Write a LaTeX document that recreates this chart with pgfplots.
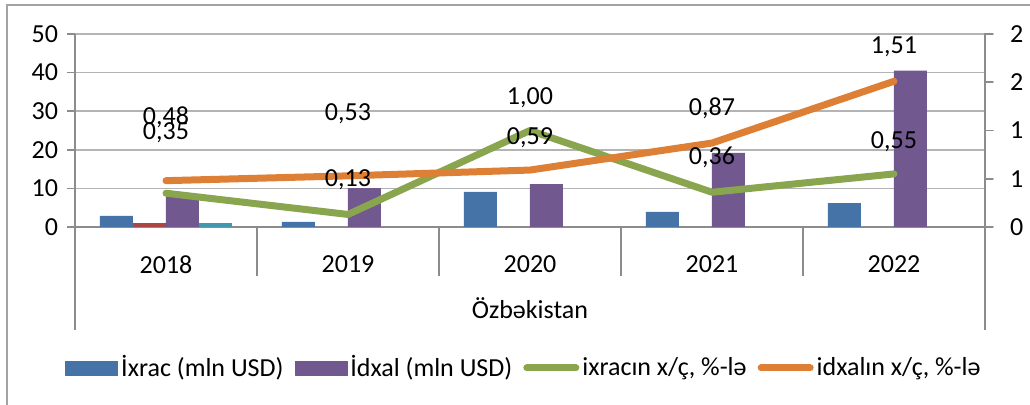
\documentclass[border=0pt]{standalone}
\usepackage{fontspec}
\setmainfont{Carlito}
\usepackage{pgfplots}
\pgfplotsset{compat=1.18}

\definecolor{cBlue}{HTML}{4572A7}
\definecolor{cRed}{HTML}{AA4643}
\definecolor{cPurple}{HTML}{71588F}
\definecolor{cTeal}{HTML}{4198AF}
\definecolor{cGreen}{HTML}{89A54E}
\definecolor{cOrange}{HTML}{DE7F36}
\definecolor{cAxis}{HTML}{8C8C8C}
\definecolor{cGrid}{HTML}{B4B4B4}

\pgfplotsset{
  common/.style={
    at={(37.5pt,89pt)}, anchor=south west,
    scale only axis, width=455pt, height=96.5pt,
    xmin=-0.5, xmax=4.5,
    clip=false,
    tick align=outside, major tick length=4pt,
    tick style={cAxis, line width=0.8pt},
    axis line style={cAxis, line width=1pt, -},
    tick label style={font=\fontsize{13}{15}\selectfont},
    /pgf/number format/assume math mode=true,
  }
}

\begin{document}
\fontsize{13}{15}\selectfont
\begin{tikzpicture}[x=1pt,y=1pt]
\path[use as bounding box] (0,0) rectangle (515,202.5);
\draw[cAxis!80, line width=0.8pt] (3.5,0) -- (3.5,200) -- (515,200);

% bars, left axis
\begin{axis}[common,
  ymin=0, ymax=50, ytick={0,10,...,50},
  xtick={0,...,4}, xticklabels={2018,2019,2020,2021,2022},
  xtick style={draw=none},
  x tick label style={yshift=-6pt},
  axis x line*=bottom, axis y line*=left,
  ymajorgrids, grid style={cGrid, line width=0.8pt},
  ybar=0pt, bar width=16.5pt,
]
\addplot[draw=none, fill=cBlue] coordinates {(0,2.9) (1,1.3) (2,9.1) (3,3.9) (4,6.2)};
\addplot[draw=none, fill=cRed] coordinates {(0,1.0)};
\addplot[draw=none, fill=cPurple] coordinates {(0,7.9) (1,10.1) (2,11.1) (3,19.2) (4,40.5)};
\addplot[draw=none, fill=cTeal] coordinates {(0,1.0)};
\pgfplotsinvokeforeach{0.5,1.5,2.5,3.5}{
  \draw[cAxis, line width=1pt] (axis cs:#1,0) -- ++(0pt,-24.5pt);
}
\draw[cAxis, line width=1pt] (axis cs:-0.5,0) -- ++(0pt,-51.5pt);
\draw[cAxis, line width=1pt] (axis cs:4.5,0) -- ++(0pt,-51.5pt);
\node at (axis cs:2,0) [yshift=-40.5pt] {Özbəkistan};
\end{axis}

% lines, right axis
\begin{axis}[common,
  ymin=0, ymax=2, ytick={0,0.5,...,2}, yticklabels={0,1,1,2,2},
  y tick label style={xshift=4pt},
  axis y line*=right, axis x line=none,
  legend columns=4,
  legend style={draw=none, fill=none, at={(0.494,-0.7306)}, anchor=center,
    font=\fontsize{13}{15}\selectfont,
    nodes={inner xsep=1.5pt},
    /tikz/every odd column/.append style={column sep=0pt},
    /tikz/every even column/.append style={column sep=4pt}},
  line join=round, line cap=round,
]
\addlegendimage{legend image code/.code={\fill[cBlue] (0pt,-3.5pt) rectangle (26pt,3.5pt);}}
\addlegendentry{İxrac (mln USD)}
\addlegendimage{legend image code/.code={\fill[cPurple] (0pt,-3.5pt) rectangle (26pt,3.5pt);}}
\addlegendentry{İdxal (mln USD)}
\addplot[cGreen, line width=3.5pt,
  legend image code/.code={\draw[cGreen, line width=3.5pt, line cap=round] (1.5pt,0pt) -- (26pt,0pt);}]
  coordinates {(0,0.35) (1,0.13) (2,1.00) (3,0.36) (4,0.55)};
\addlegendentry{ixracın x/ç, \%-lə}
\addplot[cOrange, line width=3.5pt,
  legend image code/.code={\draw[cOrange, line width=3.5pt, line cap=round] (1.5pt,0pt) -- (26pt,0pt);}]
  coordinates {(0,0.48) (1,0.53) (2,0.59) (3,0.87) (4,1.51)};
\addlegendentry{idxalın x/ç, \%-lə}
% data labels
\node at (axis cs:0,1.14) {0,48};
\node at (axis cs:0,0.98) {0,35};
\node at (axis cs:1,1.17) {0,53};
\node at (axis cs:1,0.49) {0,13};
\node at (axis cs:2,1.34) {1,00};
\node at (axis cs:2,0.93) {0,59};
\node at (axis cs:3,1.23) {0,87};
\node at (axis cs:3,0.72) {0,36};
\node at (axis cs:4,1.87) {1,51};
\node at (axis cs:4,0.88) {0,55};
\end{axis}
\end{tikzpicture}
\end{document}
